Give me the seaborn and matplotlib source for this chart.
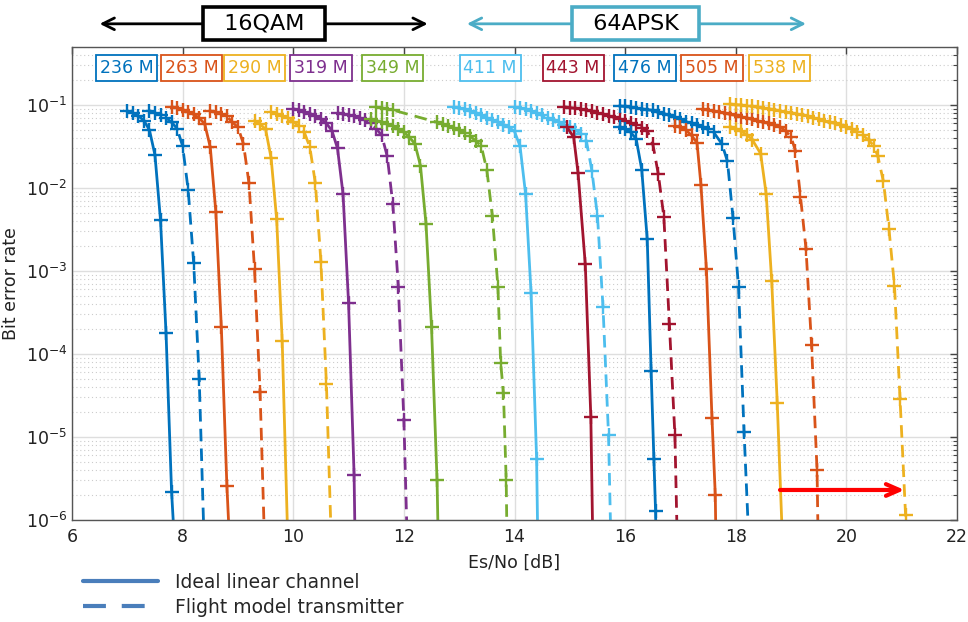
import matplotlib
matplotlib.use("Agg")
import matplotlib.pyplot as plt
import seaborn as sns
import pandas as pd
from matplotlib.lines import Line2D

# ---------------- data ----------------
RATES = ["236 M", "263 M", "290 M", "319 M", "349 M",
         "411 M", "443 M", "476 M", "505 M", "538 M"]
COLORS = ["#0072BD", "#D95319", "#EDB120", "#7E2F8E", "#77AC30",
          "#4DBEEE", "#A2142F", "#0072BD", "#D95319", "#EDB120"]

ESNO_236_IDEAL = [7.0, 7.1, 7.2, 7.3, 7.4, 7.5, 7.6, 7.7, 7.8, 7.9]
BER_236_IDEAL = [0.085, 0.08, 0.074, 0.065, 0.05, 0.025, 4.1e-3, 1.8e-4, 2.2e-6, 1.5e-7]
ESNO_236_FLIGHT = [7.4, 7.5, 7.6, 7.7, 7.8, 7.9, 8.0, 8.1, 8.2, 8.3, 8.4]
BER_236_FLIGHT = [0.085, 0.08, 0.076, 0.07, 0.062, 0.052, 0.032, 9.5e-3, 1.25e-3, 5e-5, 3e-7]

ESNO_263_IDEAL = [7.8, 7.9, 8.0, 8.1, 8.2, 8.3, 8.4, 8.5, 8.6, 8.7, 8.8, 8.9]
BER_263_IDEAL = [0.095, 0.092, 0.088, 0.083, 0.077, 0.07, 0.059, 0.031, 5.2e-3, 2.1e-4, 2.6e-6, 1e-7]
ESNO_263_FLIGHT = [8.5, 8.6, 8.7, 8.8, 8.9, 9.0, 9.1, 9.2, 9.3, 9.4, 9.5]
BER_263_FLIGHT = [0.085, 0.082, 0.078, 0.073, 0.062, 0.054, 0.034, 0.0114, 1.05e-3, 3.5e-5, 2e-7]

ESNO_290_IDEAL = [9.3, 9.4, 9.5, 9.6, 9.7, 9.8, 9.9]
BER_290_IDEAL = [0.065, 0.059, 0.051, 0.023, 4.2e-3, 1.45e-4, 6e-7]
ESNO_290_FLIGHT = [9.6, 9.7, 9.8, 9.9, 10.0, 10.1, 10.2, 10.3, 10.4, 10.5, 10.6, 10.7]
BER_290_FLIGHT = [0.082, 0.078, 0.074, 0.069, 0.063, 0.056, 0.047, 0.031, 0.0114, 1.3e-3, 4.3e-5, 3e-7]

ESNO_319_IDEAL = [10.0, 10.1, 10.2, 10.3, 10.4, 10.5, 10.6, 10.7, 10.8, 10.9, 11.0, 11.1, 11.2]
BER_319_IDEAL = [0.09, 0.087, 0.083, 0.079, 0.074, 0.068, 0.06, 0.049, 0.03, 8.5e-3, 4.1e-4, 3.5e-6, 1e-10]
ESNO_319_FLIGHT = [10.8, 10.9, 11.0, 11.1, 11.2, 11.3, 11.4, 11.5, 11.6, 11.7, 11.8, 11.9, 12.0, 12.1]
BER_319_FLIGHT = [0.08, 0.078, 0.076, 0.073, 0.07, 0.066, 0.06, 0.052, 0.043, 0.024, 6.4e-3, 6.5e-4, 1.6e-5, 6e-8]

ESNO_349_IDEAL = [11.4, 11.5, 11.6, 11.7, 11.8, 11.9, 12.0, 12.1, 12.2, 12.3, 12.4, 12.5, 12.6, 12.7]
BER_349_IDEAL = [0.068, 0.065, 0.062, 0.059, 0.056, 0.052, 0.047, 0.041, 0.034, 0.0186, 3.7e-3, 2.1e-4, 3e-6, 1e-9]
ESNO_349_FLIGHT = [11.5, 11.6, 11.7, 11.8, 12.6, 12.7, 12.8, 12.9, 13.0, 13.1, 13.2, 13.3, 13.4,
                   13.5, 13.6, 13.7, 13.75, 13.8, 13.85, 13.9]
BER_349_FLIGHT = [0.094, 0.092, 0.09, 0.087, 0.062, 0.059, 0.056, 0.053, 0.05, 0.046, 0.042, 0.037, 0.032,
                  0.0165, 4.6e-3, 6.5e-4, 7.8e-5, 3.4e-5, 3e-6, 1e-8]

ESNO_411_IDEAL = [12.9, 13.0, 13.1, 13.2, 13.3, 13.4, 13.5, 13.6, 13.7, 13.8, 13.9, 14.0,
                  14.1, 14.2, 14.3, 14.4, 14.5]
BER_411_IDEAL = [0.094, 0.092, 0.089, 0.085, 0.081, 0.076, 0.07, 0.066, 0.062, 0.058, 0.054, 0.048,
                 0.032, 8.5e-3, 5.4e-4, 5.4e-6, 1e-10]
ESNO_411_FLIGHT = [14.0, 14.1, 14.2, 14.3, 14.4, 14.5, 14.6, 14.7, 14.8, 14.9, 15.0, 15.1, 15.2,
                   15.3, 15.4, 15.5, 15.6, 15.7, 15.8]
BER_411_FLIGHT = [0.094, 0.092, 0.089, 0.085, 0.08, 0.075, 0.07, 0.066, 0.062, 0.058, 0.054, 0.05, 0.045,
                  0.037, 0.016, 4.6e-3, 3.7e-4, 1.05e-5, 1e-8]

ESNO_443_IDEAL = [14.95, 15.07, 15.15, 15.28, 15.38, 15.48]
BER_443_IDEAL = [0.054, 0.041, 0.015, 1.2e-3, 1.75e-5, 1e-9]
ESNO_443_FLIGHT = [14.9, 15.0, 15.1, 15.2, 15.3, 15.4, 15.5, 15.6, 15.7, 15.8, 15.9, 16.0, 16.1, 16.2,
                   16.3, 16.4, 16.5, 16.6, 16.7, 16.8, 16.9, 17.0]
BER_443_FLIGHT = [0.095, 0.093, 0.091, 0.089, 0.087, 0.084, 0.081, 0.078, 0.074, 0.071, 0.067, 0.064,
                  0.06, 0.057, 0.053, 0.049, 0.034, 0.0147, 4.5e-3, 2.3e-4, 1.05e-5, 1e-8]

ESNO_476_IDEAL = [15.9, 16.0, 16.1, 16.2, 16.3, 16.4, 16.47, 16.52, 16.55, 16.6]
BER_476_IDEAL = [0.055, 0.051, 0.047, 0.039, 0.0167, 2.4e-3, 6.3e-5, 5.4e-6, 1.3e-6, 1e-8]
ESNO_476_FLIGHT = [15.9, 16.0, 16.1, 16.2, 16.3, 16.4, 16.5, 16.6, 16.7, 16.8, 16.9, 17.0, 17.1, 17.2,
                   17.3, 17.4, 17.5, 17.6, 17.75, 17.85, 17.95, 18.05, 18.15, 18.25]
BER_476_FLIGHT = [0.097, 0.096, 0.094, 0.092, 0.09, 0.088, 0.086, 0.083, 0.079, 0.075, 0.071, 0.067,
                  0.063, 0.06, 0.057, 0.054, 0.051, 0.047, 0.034, 0.021, 4.4e-3, 6.5e-4, 1.15e-5, 3.5e-7]

ESNO_505_IDEAL = [16.9, 17.0, 17.1, 17.2, 17.3, 17.37, 17.47, 17.57, 17.63, 17.7]
BER_505_IDEAL = [0.056, 0.054, 0.05, 0.043, 0.035, 0.011, 1.05e-3, 1.7e-5, 2e-6, 1e-9]
ESNO_505_FLIGHT = [17.4, 17.5, 17.6, 17.7, 17.8, 17.9, 18.0, 18.1, 18.2, 18.3, 18.4, 18.5, 18.6, 18.7,
                   18.8, 18.9, 19.0, 19.08, 19.17, 19.27, 19.37, 19.47, 19.55]
BER_505_FLIGHT = [0.089, 0.087, 0.084, 0.082, 0.08, 0.077, 0.075, 0.072, 0.07, 0.067, 0.065, 0.062,
                  0.06, 0.057, 0.054, 0.049, 0.041, 0.028, 7.9e-3, 1.86e-3, 1.3e-4, 4e-6, 1e-9]

ESNO_538_IDEAL = [17.9, 18.0, 18.1, 18.2, 18.3, 18.45, 18.55, 18.65, 18.75, 18.85]
BER_538_IDEAL = [0.055, 0.052, 0.048, 0.044, 0.038, 0.026, 8.5e-3, 7.6e-4, 2.6e-5, 4.5e-7]
ESNO_538_FLIGHT = [17.9, 18.0, 18.1, 18.2, 18.3, 18.4, 18.5, 18.6, 18.7, 18.8, 18.9, 19.0, 19.1, 19.2,
                   19.3, 19.4, 19.5, 19.6, 19.7, 19.8, 19.9, 20.0, 20.1, 20.2, 20.3, 20.4, 20.5,
                   20.57, 20.67, 20.77, 20.87, 20.97, 21.07, 21.15]
BER_538_FLIGHT = [0.103, 0.101, 0.1, 0.098, 0.096, 0.094, 0.092, 0.09, 0.088, 0.085, 0.083, 0.081,
                  0.078, 0.076, 0.073, 0.07, 0.068, 0.065, 0.062, 0.06, 0.057, 0.054, 0.051, 0.047,
                  0.043, 0.038, 0.032, 0.024, 0.012, 3.2e-3, 6.6e-4, 2.9e-5, 1.15e-6, 1e-8]

# improvement arrow (Es/No start/end, BER level)
ARROW_ESNO = [18.8, 21.05]
ARROW_BER = 2.3e-6

LEGEND_LABELS = ["Ideal linear channel", "Flight model transmitter"]

# ---------------- assemble ----------------
CURVES = {
    ("236 M", "ideal"): (ESNO_236_IDEAL, BER_236_IDEAL),
    ("236 M", "flight"): (ESNO_236_FLIGHT, BER_236_FLIGHT),
    ("263 M", "ideal"): (ESNO_263_IDEAL, BER_263_IDEAL),
    ("263 M", "flight"): (ESNO_263_FLIGHT, BER_263_FLIGHT),
    ("290 M", "ideal"): (ESNO_290_IDEAL, BER_290_IDEAL),
    ("290 M", "flight"): (ESNO_290_FLIGHT, BER_290_FLIGHT),
    ("319 M", "ideal"): (ESNO_319_IDEAL, BER_319_IDEAL),
    ("319 M", "flight"): (ESNO_319_FLIGHT, BER_319_FLIGHT),
    ("349 M", "ideal"): (ESNO_349_IDEAL, BER_349_IDEAL),
    ("349 M", "flight"): (ESNO_349_FLIGHT, BER_349_FLIGHT),
    ("411 M", "ideal"): (ESNO_411_IDEAL, BER_411_IDEAL),
    ("411 M", "flight"): (ESNO_411_FLIGHT, BER_411_FLIGHT),
    ("443 M", "ideal"): (ESNO_443_IDEAL, BER_443_IDEAL),
    ("443 M", "flight"): (ESNO_443_FLIGHT, BER_443_FLIGHT),
    ("476 M", "ideal"): (ESNO_476_IDEAL, BER_476_IDEAL),
    ("476 M", "flight"): (ESNO_476_FLIGHT, BER_476_FLIGHT),
    ("505 M", "ideal"): (ESNO_505_IDEAL, BER_505_IDEAL),
    ("505 M", "flight"): (ESNO_505_FLIGHT, BER_505_FLIGHT),
    ("538 M", "ideal"): (ESNO_538_IDEAL, BER_538_IDEAL),
    ("538 M", "flight"): (ESNO_538_FLIGHT, BER_538_FLIGHT),
}

rows = []
for (rate, ch), (xs, ys) in CURVES.items():
    for i, (x, y) in enumerate(zip(xs, ys)):
        rows.append({"rate": rate, "channel": ch, "esno": x, "ber": y, "idx": i})
df = pd.DataFrame(rows)

# ---------------- style ----------------
sns.set_theme(style="white")
plt.rcParams["font.family"] = ["DejaVu Sans"]
plt.rcParams["mathtext.default"] = "regular"

fig = plt.figure(figsize=(9.68, 6.22), dpi=100)
ax = fig.add_axes([72 / 968, 1 - 520 / 622, (957 - 72) / 968, (520 - 47) / 622])

color_of = dict(zip(RATES, COLORS))
DASH = (0, (4.5, 2.6))

for (rate, ch), sub in df.groupby(["rate", "channel"], sort=False):
    c = color_of[rate]
    sns.lineplot(data=sub, x="esno", y="ber", ax=ax, sort=False, estimator=None,
                 color=c, linewidth=2.0,
                 linestyle="-" if ch == "ideal" else DASH,
                 marker="+", markersize=10.5, markeredgewidth=1.7, markeredgecolor=c,
                 legend=False)

ax.set_yscale("log")
ax.set_xlim(6, 22)
ax.set_ylim(1e-6, 0.5)
ax.set_xticks([6, 8, 10, 12, 14, 16, 18, 20, 22])

ax.grid(True, which="major", color="#dedede", linewidth=1.0)
ax.grid(True, which="minor", axis="y", color="#cccccc", linestyle=(0, (1, 2.5)), linewidth=0.8)
ax.set_axisbelow(True)

for s in ax.spines.values():
    s.set_color("#555555")
    s.set_linewidth(1.0)
ax.tick_params(which="both", direction="in", top=True, right=True, colors="#444444",
               labelcolor="#222222", labelsize=12.5)
ax.tick_params(which="major", length=5, width=1)
ax.tick_params(which="minor", length=3, width=0.8)
ax.tick_params(axis="x", which="minor", bottom=False, top=False)
ax.tick_params(axis="x", pad=6)

ax.set_xlabel("Es/No [dB]", fontsize=12.5, color="#222222", labelpad=5)
ax.set_ylabel("Bit error rate", fontsize=12.5, color="#222222", labelpad=4)

# ---------- rate labels ----------
LABEL_X = [6.99, 8.165, 9.30, 10.50, 11.80, 13.56, 15.06, 16.36, 17.57, 18.79]
for rate, c, lx in zip(RATES, COLORS, LABEL_X):
    ax.annotate(rate, xy=(lx, 0.9556), xycoords=("data", "axes fraction"),
                ha="center", va="center", fontsize=12.5, color=c,
                bbox=dict(boxstyle="square,pad=0.22", fc="white", ec=c, lw=1.3))

# ---------- modulation headers ----------
def header(text, x0, x1, xc, col):
    ax.annotate("", xy=(x0, 1.049), xytext=(x1, 1.049),
                xycoords=("data", "axes fraction"), textcoords=("data", "axes fraction"),
                arrowprops=dict(arrowstyle="<->,head_length=0.7,head_width=0.35",
                                color=col, lw=2.0, shrinkA=0, shrinkB=0),
                annotation_clip=False)
    ax.annotate(text, xy=(xc, 1.049), xycoords=("data", "axes fraction"),
                ha="center", va="center", fontsize=16, color="black",
                bbox=dict(boxstyle="square,pad=0.3", fc="white", ec=col, lw=2.6),
                annotation_clip=False)

header("  16QAM  ", 6.5, 12.43, 9.47, "black")
header("  64APSK  ", 13.14, 19.27, 16.19, "#4BACC6")

# ---------- red improvement arrow ----------
ax.annotate("", xy=(ARROW_ESNO[1], ARROW_BER), xytext=(ARROW_ESNO[0], ARROW_BER),
            arrowprops=dict(arrowstyle="->,head_length=0.8,head_width=0.35",
                            color="#FF0000", lw=3.0, shrinkA=0, shrinkB=0))

# ---------- legend ----------
handles = [Line2D([], [], color="#4A7EBB", lw=3.0, linestyle="-"),
           Line2D([], [], color="#4A7EBB", lw=3.0, linestyle=(0, (5.5, 3.8)))]
fig.legend(handles, LEGEND_LABELS, loc="upper left", bbox_to_anchor=(83 / 968, 1 - 573 / 622),
           frameon=False, fontsize=13.5, handlelength=4.0, handletextpad=0.9,
           borderpad=0, borderaxespad=0, labelspacing=0.3)

fig.savefig("out.png", dpi=100, facecolor="white")
